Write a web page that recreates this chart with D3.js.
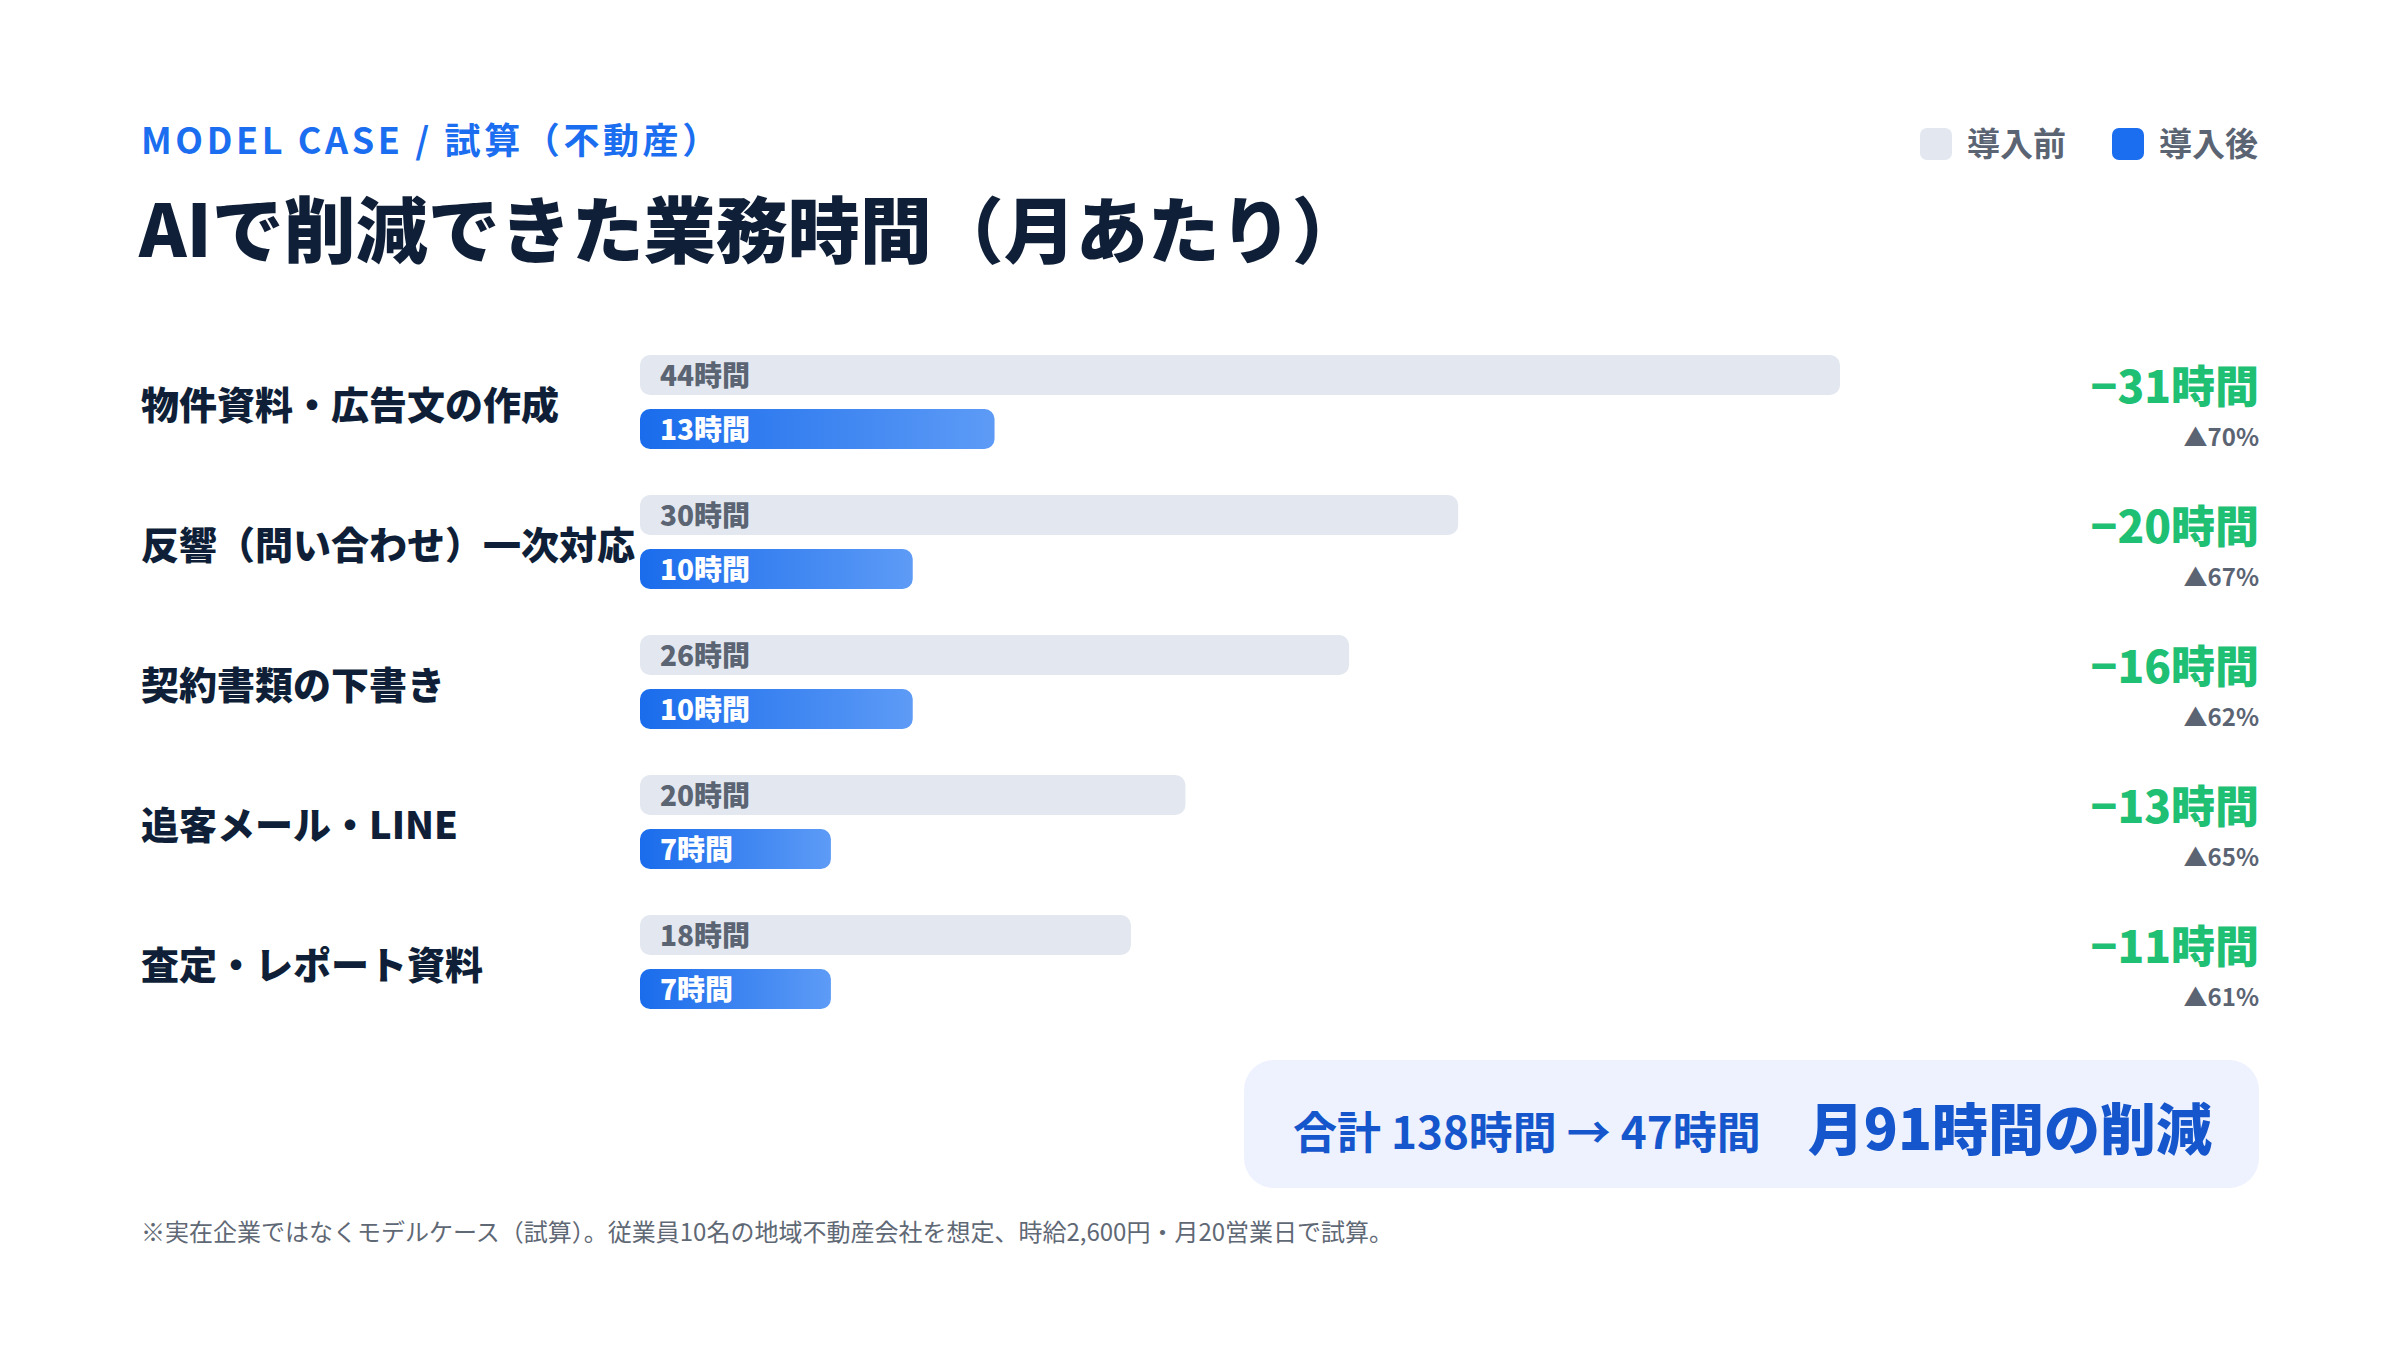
<!DOCTYPE html>
<html lang="ja">
<head>
<meta charset="utf-8">
<script src="https://cdn.jsdelivr.net/npm/d3@7"></script>
<style>
  html, body { margin: 0; padding: 0; background: #fff; }
  svg { display: block; font-family: "Noto Sans CJK JP", "Noto Sans", sans-serif; }
</style>
</head>
<body>
<svg id="chart" width="2400" height="1350"></svg>
<script>
// data
const categories = [
  "物件資料・広告文の作成",
  "反響（問い合わせ）一次対応",
  "契約書類の下書き",
  "追客メール・LINE",
  "査定・レポート資料",
];
const hoursBefore = [44, 30, 26, 20, 18];
const hoursAfter = [13, 10, 10, 7, 7];
const hoursSaved = [31, 20, 16, 13, 11];
const pctSaved = [70, 67, 62, 65, 61];
const seriesNames = ["導入前", "導入後"];

const rows = categories.map((c, i) => ({
  cat: c,
  before: hoursBefore[i],
  after: hoursAfter[i],
  saved: hoursSaved[i],
  pct: pctSaved[i],
}));
const totalBefore = d3.sum(hoursBefore);
const totalAfter = d3.sum(hoursAfter);
const totalSaved = totalBefore - totalAfter;

const NAVY = "#0f1f38";
const BLUE = "#1a6eef";
const GREY_BAR = "#e2e7f0";
const GREY_TXT = "#5b6473";
const GREEN = "#1fbf74";

const svg = d3.select("#chart");
svg.append("rect").attr("width", 2400).attr("height", 1350).attr("fill", "#fff");

const defs = svg.append("defs");
const grad = defs.append("linearGradient").attr("id", "blueGrad");
grad.append("stop").attr("offset", "0%").attr("stop-color", "#1a6cec");
grad.append("stop").attr("offset", "100%").attr("stop-color", "#5d9bf6");

const left = 141;
const right = 2259;

// header
svg.append("text")
  .attr("x", left).attr("y", 154)
  .attr("font-size", 36).attr("font-weight", 700)
  .attr("letter-spacing", 3.6)
  .attr("fill", BLUE)
  .text("MODEL CASE / 試算（不動産）");

svg.append("text")
  .attr("x", left - 2).attr("y", 257)
  .attr("font-size", 72).attr("font-weight", 900)
  .attr("fill", NAVY)
  .text("AIで削減できた業務時間（月あたり）");

// legend
const legend = svg.append("g");
const legendX = [1920, 2112];
const legendFill = [GREY_BAR, BLUE];
seriesNames.forEach((name, i) => {
  legend.append("rect")
    .attr("x", legendX[i]).attr("y", 128)
    .attr("width", 32).attr("height", 32).attr("rx", 7)
    .attr("fill", legendFill[i]);
  legend.append("text")
    .attr("x", legendX[i] + 47).attr("y", 156)
    .attr("font-size", 33).attr("font-weight", 700)
    .attr("fill", GREY_TXT)
    .text(name);
});

// scales
const x = d3.scaleLinear().domain([0, d3.max(hoursBefore)]).range([640, 1840]);
const y = d3.scalePoint().domain(categories).range([402, 962]);
const barH = 40;

const rowG = svg.append("g").selectAll("g.row")
  .data(rows)
  .join("g")
  .attr("class", "row")
  .attr("transform", (d) => `translate(0,${y(d.cat)})`);

rowG.append("text")
  .attr("x", left).attr("y", 3).attr("dy", "0.36em")
  .attr("font-size", 38).attr("font-weight", 900)
  .attr("fill", NAVY)
  .text((d) => d.cat);

rowG.append("rect")
  .attr("x", x(0)).attr("y", -47)
  .attr("width", (d) => x(d.before) - x(0)).attr("height", barH)
  .attr("rx", 10)
  .attr("fill", GREY_BAR);

rowG.append("text")
  .attr("x", x(0) + 20).attr("y", -26).attr("dy", "0.36em")
  .attr("font-size", 28).attr("font-weight", 900)
  .attr("fill", GREY_TXT)
  .text((d) => `${d.before}時間`);

rowG.append("rect")
  .attr("x", x(0)).attr("y", 7)
  .attr("width", (d) => x(d.after) - x(0)).attr("height", barH)
  .attr("rx", 10)
  .attr("fill", "url(#blueGrad)");

rowG.append("text")
  .attr("x", x(0) + 20).attr("y", 28).attr("dy", "0.36em")
  .attr("font-size", 28).attr("font-weight", 900)
  .attr("fill", "#fff")
  .text((d) => `${d.after}時間`);

rowG.append("text")
  .attr("x", right).attr("y", -15).attr("dy", "0.36em")
  .attr("text-anchor", "end")
  .attr("font-size", 44).attr("font-weight", 900)
  .attr("fill", GREEN)
  .text((d) => `−${d.saved}時間`);

rowG.append("text")
  .attr("x", right).attr("y", 35).attr("dy", "0.36em")
  .attr("text-anchor", "end")
  .attr("font-size", 24).attr("font-weight", 700)
  .attr("fill", GREY_TXT)
  .text((d) => `▲${d.pct}%`);

// summary box
const box = svg.append("g");
box.append("rect")
  .attr("x", 1244).attr("y", 1060)
  .attr("width", right - 1244).attr("height", 128)
  .attr("rx", 30)
  .attr("fill", "#edf2fe");
box.append("text")
  .attr("x", 1293).attr("y", 1149)
  .attr("font-size", 44).attr("font-weight", 700)
  .attr("fill", "#1556cc")
  .text(`合計 ${totalBefore}時間 → ${totalAfter}時間`);
box.append("text")
  .attr("x", 2212).attr("y", 1150)
  .attr("text-anchor", "end")
  .attr("font-size", 56).attr("font-weight", 900)
  .attr("fill", "#1556cc")
  .text(`月${totalSaved}時間の削減`);

// footnote
svg.append("text")
  .attr("x", left).attr("y", 1241)
  .attr("font-size", 24).attr("font-weight", 400)
  .attr("fill", "#5f6875")
  .text("※実在企業ではなくモデルケース（試算）。従業員10名の地域不動産会社を想定、時給2,600円・月20営業日で試算。");
</script>
</body>
</html>
